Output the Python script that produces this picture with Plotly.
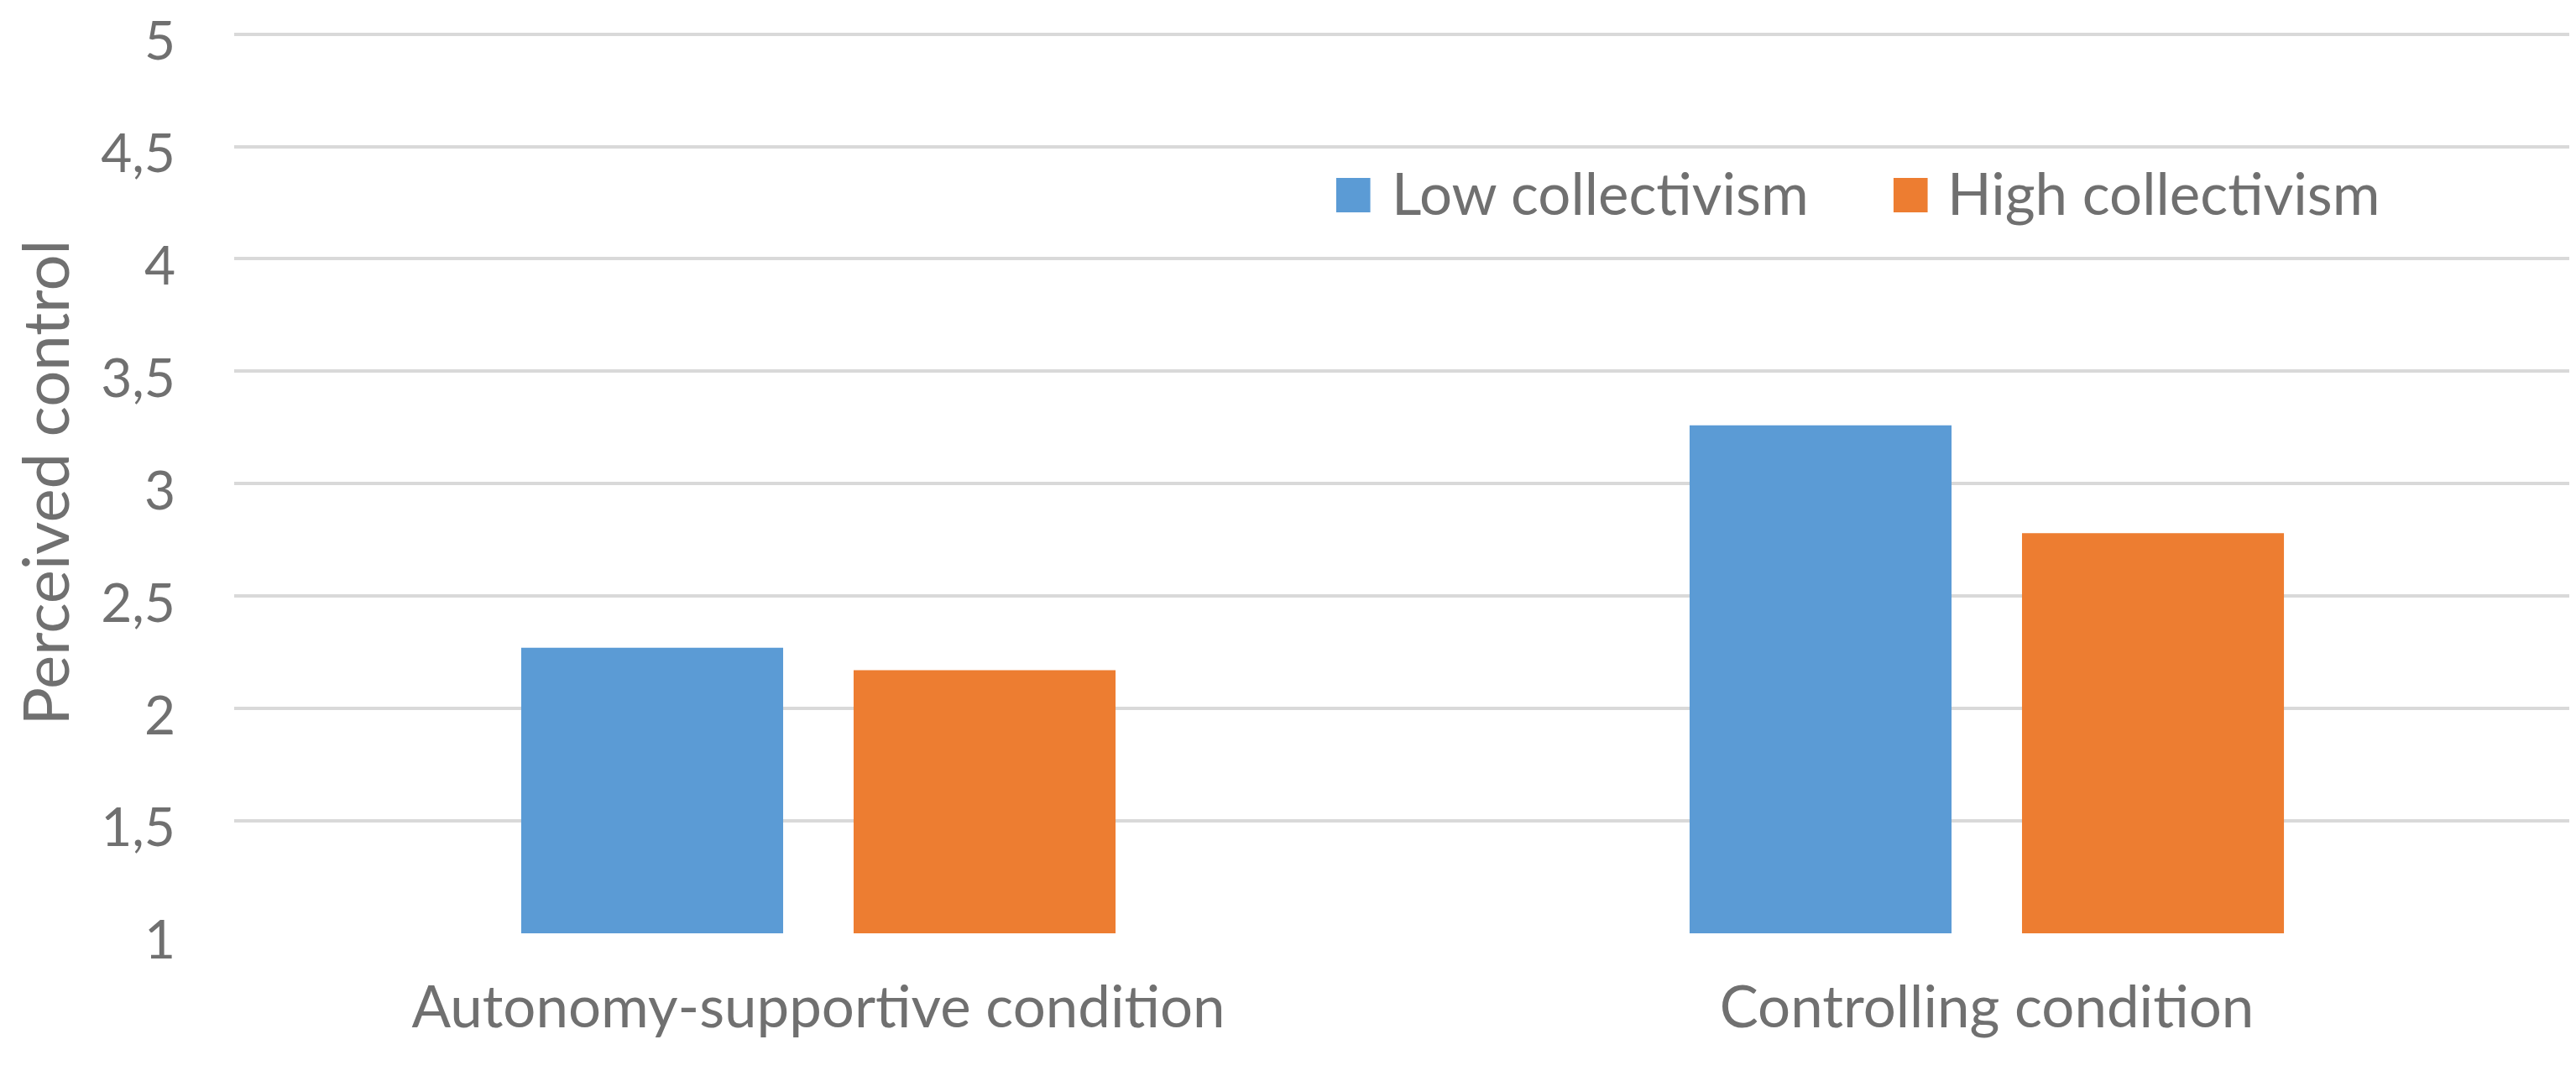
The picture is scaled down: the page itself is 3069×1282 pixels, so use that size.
import plotly.graph_objects as go

# data
conditions = ["Autonomy-supportive condition", "Controlling condition"]
series_names = ["Low collectivism", "High collectivism"]
low_collectivism = [2.27, 3.26]
high_collectivism = [2.17, 2.78]
y_ticks = [1, 1.5, 2, 2.5, 3, 3.5, 4, 4.5, 5]
y_title = "Perceived control"
baseline = 1

colors = ["#5b9bd5", "#ed7d31"]
text_color = "#707070"
font_family = "Lato, 'Open Sans', sans-serif"

fig = go.Figure()
for name, values, color in zip(series_names, [low_collectivism, high_collectivism], colors):
    # bars start at the axis floor (1), so the bar length is value - 1
    fig.add_trace(go.Bar(
        x=conditions,
        y=[v - baseline for v in values],
        base=baseline,
        name=name,
        marker=dict(color=color, line=dict(width=0)),
        hovertemplate="%{x}<br>" + name + ": %{customdata}<extra></extra>",
        customdata=values,
        showlegend=False
    ))

# legend drawn by hand so the swatches can be as large as in the original
legend_pos = [(0.4716, 0.4946), (0.7101, 0.7325)]
for name, color, (sx, tx) in zip(series_names, colors, legend_pos):
    fig.add_shape(type="rect", xref="paper", yref="paper",
                  x0=sx, x1=sx + 0.0146, y0=0.8005, y1=0.8388,
                  fillcolor=color, line=dict(width=0))
    fig.add_annotation(text=name, xref="paper", yref="paper",
                       x=tx, y=0.822, xanchor="left", yanchor="middle",
                       showarrow=False,
                       font=dict(family=font_family, size=69, color=text_color))

# y axis title as a rotated annotation so it sits right at the left edge
fig.add_annotation(text=y_title, xref="paper", yref="paper",
                   x=-0.0815, y=0.5, xanchor="center", yanchor="middle",
                   textangle=-90, showarrow=False,
                   font=dict(family=font_family, size=76, color=text_color))

# the page body has an 8px margin, so the figure is 8px smaller each way
fig.update_layout(
    width=3061,
    height=1274,
    margin=dict(l=271, r=6, t=31, b=170, autoexpand=False),
    plot_bgcolor="white",
    paper_bgcolor="white",
    separators=", ",
    barmode="group",
    bargap=0.431,
    bargroupgap=0.212,
    font=dict(family=font_family, size=66, color=text_color),
    xaxis=dict(
        showgrid=False,
        showline=False,
        ticks="",
        automargin=False,
        ticklabelstandoff=42,
        tickfont=dict(size=69, color=text_color)
    ),
    yaxis=dict(
        range=[1, 5.006],
        tickvals=y_ticks,
        showgrid=True,
        gridcolor="#d9d9d9",
        gridwidth=4,
        zeroline=False,
        showline=False,
        ticks="",
        automargin=False,
        ticklabelstandoff=69,
        ticklabelshift=8,
        ticklabeloverflow="allow",
        tickfont=dict(size=64, color=text_color)
    )
)

fig.write_html("out.html")
